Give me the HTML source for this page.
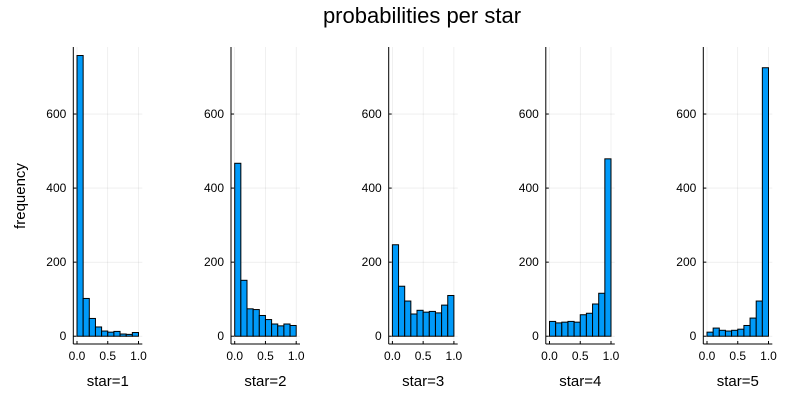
<!DOCTYPE html>
<html><head><meta charset="utf-8"><style>
html,body{margin:0;padding:0;background:#fff;}
svg{display:block;font-family:"Liberation Sans","DejaVu Sans",sans-serif;}
</style></head><body>
<svg id="chart" width="800" height="400" viewBox="0 0 800 400">
<text x="422" y="23" font-size="22" text-anchor="middle" fill="#000">probabilities per star</text>
<text transform="translate(25,196) rotate(-90)" font-size="15" text-anchor="middle" fill="#000">frequency</text>
</svg>
<script>
const starLabels = ["star=1","star=2","star=3","star=4","star=5"];
const binEdges = [0,0.1,0.2,0.3,0.4,0.5,0.6,0.7,0.8,0.9,1.0];
const star1 = [758,102,48,25,14,11,13,6,5,10];
const star2 = [467,151,74,72,56,45,33,28,33,29];
const star3 = [247,135,95,60,70,65,67,63,84,110];
const star4 = [40,36,38,40,38,58,62,87,116,479];
const star5 = [11,22,16,14,16,19,29,49,95,725];
const yTicks = [0,200,400,600];
const xTicks = [0,0.5,1.0];
const xTickLabels = ["0.0","0.5","1.0"];
const series = [star1,star2,star3,star4,star5];

const svgEl = document.getElementById('chart');
const NS = 'http://www.w3.org/2000/svg';
function mk(tag, attrs){const e=document.createElementNS(NS,tag);for(const k in attrs)e.setAttribute(k,attrs[k]);svgEl.appendChild(e);return e;}
const yMin=-21, yMax=781, plotTop=47, plotBottom=344;
function yS(v){return plotBottom-(v-yMin)/(yMax-yMin)*(plotBottom-plotTop);}
const axisLefts=[73.3,231,388.7,545.8,703.3];
for(let p=0;p<5;p++){
  const ax=axisLefts[p];
  const x0=ax+3.7, x1=ax+65.2, right=ax+69;
  const xS=v=>x0+v*(x1-x0);
  for(const t of yTicks){
    const g=mk('line',{x1:ax,x2:right,y1:yS(t),y2:yS(t),stroke:'#000','stroke-opacity':0.1,'stroke-width':0.6});
    
    
    const tk=mk('line',{x1:ax,x2:ax+3,y1:yS(t),y2:yS(t),stroke:'#000','stroke-width':1});
    
    
    const lb=mk('text',{x:ax-7,y:yS(t)+4,'font-size':12,'text-anchor':'end',fill:'#000'});
    lb.textContent=String(t);
    
    
  }
  xTicks.forEach((t,i)=>{
    const g=mk('line',{x1:xS(t),x2:xS(t),y1:plotTop,y2:plotBottom,stroke:'#000','stroke-opacity':0.1,'stroke-width':0.6});
    
    
    const tk=mk('line',{x1:xS(t),x2:xS(t),y1:plotBottom,y2:plotBottom-3,stroke:'#000','stroke-width':1});
    
    
    const lb=mk('text',{x:xS(t),y:plotBottom+16,'font-size':12,'text-anchor':'middle',fill:'#000'});
    lb.textContent=xTickLabels[i];
    
    
  });
  const vals=series[p];
  for(let i=0;i<vals.length;i++){
    const bx=xS(binEdges[i]), bw=xS(binEdges[i+1])-bx, by=yS(vals[i]);
    const r=mk('rect',{x:bx,y:by,width:bw,height:yS(0)-by,fill:'#009af9',stroke:'#000','stroke-width':1});
    
    
  }
  const la=mk('line',{x1:ax,x2:ax,y1:plotTop,y2:plotBottom,stroke:'#000','stroke-width':1});
  
  
  const lb2=mk('line',{x1:ax,x2:right,y1:plotBottom,y2:plotBottom,stroke:'#000','stroke-width':1});
  
  
  const xt=mk('text',{x:(x0+x1)/2,y:386,'font-size':15,'text-anchor':'middle',fill:'#000'});
  xt.textContent=starLabels[p];
  
  
}
</script>
</body></html>
